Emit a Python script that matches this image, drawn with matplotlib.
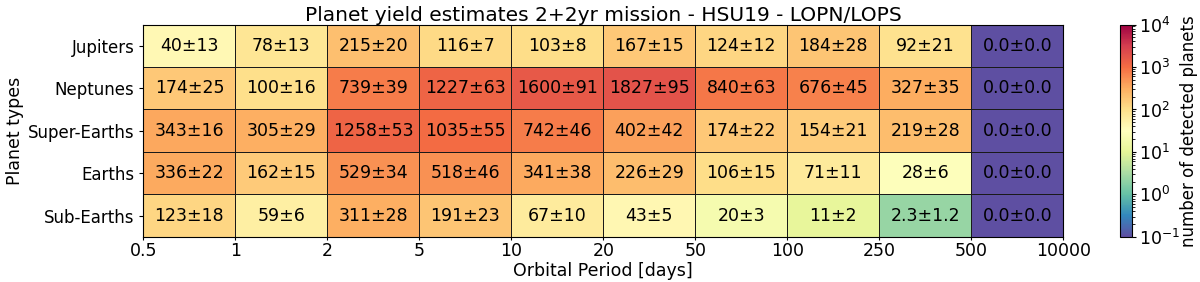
import numpy as np
import matplotlib
matplotlib.use("Agg")
import matplotlib.pyplot as plt
from matplotlib.colors import LogNorm

period_edges = ["0.5", "1", "2", "5", "10", "20", "50", "100", "250", "500", "10000"]
planet_types = ["Jupiters", "Neptunes", "Super-Earths", "Earths", "Sub-Earths"]

jupiters = [40, 78, 215, 116, 103, 167, 124, 184, 92, 0.0]
jupiters_err = [13, 13, 20, 7, 8, 15, 12, 28, 21, 0.0]
neptunes = [174, 100, 739, 1227, 1600, 1827, 840, 676, 327, 0.0]
neptunes_err = [25, 16, 39, 63, 91, 95, 63, 45, 35, 0.0]
super_earths = [343, 305, 1258, 1035, 742, 402, 174, 154, 219, 0.0]
super_earths_err = [16, 29, 53, 55, 46, 42, 22, 21, 28, 0.0]
earths = [336, 162, 529, 518, 341, 226, 106, 71, 28, 0.0]
earths_err = [22, 15, 34, 46, 38, 29, 15, 11, 6, 0.0]
sub_earths = [123, 59, 311, 191, 67, 43, 20, 11, 2.3, 0.0]
sub_earths_err = [18, 6, 28, 23, 10, 5, 3, 2, 1.2, 0.0]

values = np.array([jupiters, neptunes, super_earths, earths, sub_earths], dtype=float)
errors = np.array([jupiters_err, neptunes_err, super_earths_err, earths_err, sub_earths_err], dtype=float)

vmin, vmax = 1e-1, 1e4
fig = plt.figure(figsize=(12, 2.82), dpi=100)
ax = fig.add_axes([0.1195, 0.16, 0.7665, 0.753])
cax = fig.add_axes([0.9335, 0.16, 0.0095, 0.753])

cmap = plt.get_cmap("Spectral_r")
norm = LogNorm(vmin=vmin, vmax=vmax)
nrow, ncol = values.shape
color_vals = np.clip(values, vmin, None)
mesh = ax.pcolormesh(np.arange(ncol + 1), np.arange(nrow + 1), color_vals,
                     cmap=cmap, norm=norm, edgecolors="#1a1a1a", linewidth=0.7)
ax.set_xlim(0, ncol)
ax.set_ylim(nrow, 0)

for i in range(nrow):
    for j in range(ncol):
        v, e = values[i, j], errors[i, j]
        if v < 10:
            s = f"{v:.1f}\u00b1{e:.1f}"
        else:
            s = f"{v:.0f}\u00b1{e:.0f}"
        ax.text(j + 0.5, i + 0.5, s, ha="center", va="center", fontsize=12.5, color="black")

ax.set_xticks(np.arange(ncol + 1))
ax.set_xticklabels(period_edges, fontsize=12.5)
ax.set_yticks(np.arange(nrow) + 0.5)
ax.set_yticklabels(planet_types, fontsize=12)
ax.tick_params(axis="x", length=2, pad=2)
ax.tick_params(axis="y", length=3, pad=3.5)
ax.set_xlabel("Orbital Period [days]", fontsize=12.5, labelpad=1)
ax.set_ylabel("Planet types", fontsize=12.5, labelpad=3)
ax.set_title("Planet yield estimates 2+2yr mission - HSU19 - LOPN/LOPS", fontsize=14.5, pad=1.5)

cb = fig.colorbar(mesh, cax=cax)
cb.set_label("number of detected planets", fontsize=12, labelpad=0)
cb.ax.tick_params(labelsize=12.5, length=3, pad=2.5)

fig.savefig("out.png", dpi=100)
